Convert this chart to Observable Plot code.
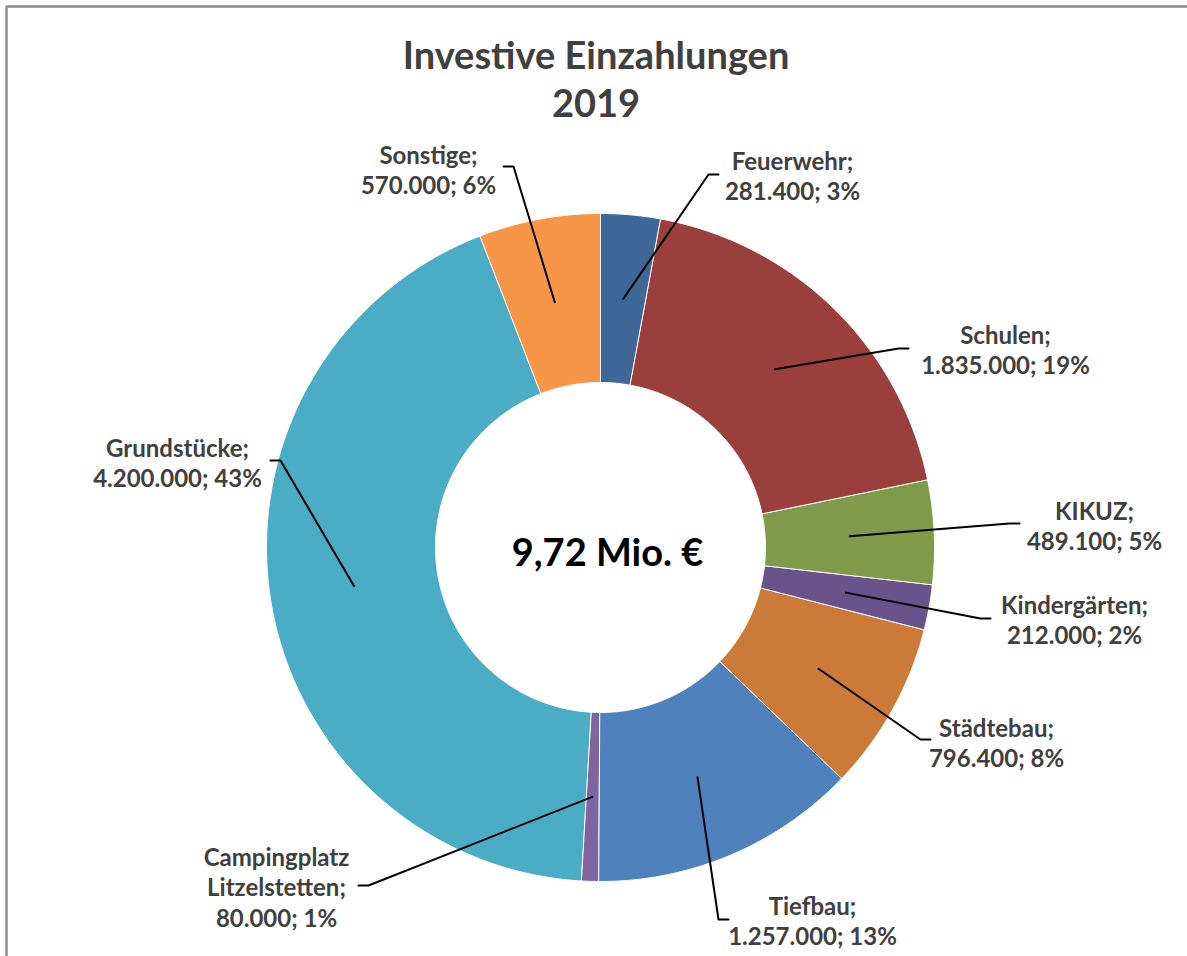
<!DOCTYPE html>
<html>
<head>
<meta charset="utf-8">
<script src="https://cdn.jsdelivr.net/npm/d3@7"></script>
<script src="https://cdn.jsdelivr.net/npm/@observablehq/plot@0.6"></script>
<style>
  html, body { margin: 0; padding: 0; background: #ffffff; }
  #chart svg { display: block; }
</style>
</head>
<body>
<div id="chart"></div>
<script>
// ---- data ----
const categories = ["Feuerwehr", "Schulen", "KIKUZ", "Kindergärten", "Städtebau", "Tiefbau", "Campingplatz Litzelstetten", "Grundstücke", "Sonstige"];
const values = [281400, 1835000, 489100, 212000, 796400, 1257000, 80000, 4200000, 570000];
const colors = ["#3f6797", "#9b3f3d", "#7f9a48", "#6a528a", "#cc7a37", "#4f81bd", "#8064a2", "#4bacc6", "#f79646"];
const titleLines = ["Investive Einzahlungen", "2019"];
const centerUnit = "Mio. €";

// ---- layout (positions in pixel units of the chart area) ----
const W = 1187, H = 956;
const donut = {cx: 600, cy: 547, outer: 334, inner: 165};
// label block centre (tx, ty) and end of leader line (ex, ey)
const labelLayout = [
  {tx: 792,  ty: 175,   ex: 718, ey: 174},
  {tx: 1005, ty: 348.5, ex: 908, ey: 348},
  {tx: 1094, ty: 525,   ex: 1019, ey: 523},
  {tx: 1074, ty: 618.5, ex: 990, ey: 618},
  {tx: 996,  ty: 742,   ex: 930, ey: 739},
  {tx: 812,  ty: 920,   ex: 728, ey: 919},
  {tx: 276,  ty: 886,   ex: 358, ey: 885},
  {tx: 177,  ty: 462,   ex: 270, ey: 460},
  {tx: 428,  ty: 169,   ex: 503, ey: 166}
];

// ---- derived ----
const de = d3.formatLocale({decimal: ",", thousands: ".", grouping: [3], currency: ["", " €"]});
const fmtInt = de.format(",d");
const fmt2 = de.format(",.2f");
const total = d3.sum(values);
const arcs = d3.pie().sort(null).value(d => d)(values);

const polar = (r, a) => ({x: donut.cx + r * Math.sin(a), y: donut.cy - r * Math.cos(a)});

const slicePoints = arcs.flatMap((a, i) => {
  const n = Math.max(2, Math.ceil((a.endAngle - a.startAngle) * 180 / Math.PI * 2));
  const pts = [];
  for (let k = 0; k <= n; k++) {
    const t = a.startAngle + (a.endAngle - a.startAngle) * k / n;
    pts.push({name: categories[i], ...polar(donut.outer, t)});
  }
  for (let k = n; k >= 0; k--) {
    const t = a.startAngle + (a.endAngle - a.startAngle) * k / n;
    pts.push({name: categories[i], ...polar(donut.inner, t)});
  }
  return pts;
});

const leaderPoints = arcs.flatMap((a, i) => {
  const L = labelLayout[i];
  const mid = (a.startAngle + a.endAngle) / 2;
  const anchor = polar((donut.outer + donut.inner) / 2, mid);
  const dir = L.tx > L.ex ? -1 : 1;
  return [
    {name: categories[i], x: anchor.x, y: anchor.y},
    {name: categories[i], x: L.ex + dir * 10, y: L.ey},
    {name: categories[i], x: L.ex, y: L.ey}
  ];
});

const labelRows = categories.map((c, i) => {
  const name = c.length > 14 ? c.replace(" ", "\n") : c;
  return {
    x: labelLayout[i].tx,
    y: labelLayout[i].ty,
    text: `${name};\n${fmtInt(values[i])}; ${Math.round(values[i] / total * 100)}%`
  };
});

const chart = Plot.plot({
  width: W,
  height: H,
  margin: 0,
  x: {domain: [0, W], range: [0, W], axis: null},
  y: {domain: [0, H], range: [0, H], axis: null},
  color: {domain: categories, range: colors},
  style: {fontFamily: "Lato, 'Open Sans', sans-serif", background: "#ffffff"},
  marks: [
    Plot.ruleY([6], {x1: 6, x2: W, stroke: "#8c8c8c", strokeWidth: 2.5}),
    Plot.ruleX([6], {y1: 6, y2: H, stroke: "#8c8c8c", strokeWidth: 2.5}),
    Plot.line(slicePoints, {x: "x", y: "y", z: "name", fill: "name", stroke: "#ffffff", strokeWidth: 1, curve: "linear-closed"}),
    Plot.line(leaderPoints, {x: "x", y: "y", z: "name", stroke: "#000000", strokeWidth: 2}),
    Plot.text(labelRows, {x: "x", y: "y", text: "text", fontSize: 24, fontWeight: "bold", fill: "#404040", lineHeight: 1.27, lineAnchor: "middle", textAnchor: "middle"}),
    Plot.text([{x: W / 2 + 2, y: 77, text: titleLines.join("\n")}], {x: "x", y: "y", text: "text", fontSize: 38, fontWeight: "bold", fill: "#404040", lineHeight: 1.28, lineAnchor: "middle"}),
    Plot.text([{x: donut.cx + 7, y: donut.cy + 6, text: `${fmt2(total / 1e6)} ${centerUnit}`}], {x: "x", y: "y", text: "text", fontSize: 38, fontWeight: "bold", fill: "#000000", lineAnchor: "middle"})
  ]
});
document.getElementById("chart").appendChild(chart);
</script>
</body>
</html>
